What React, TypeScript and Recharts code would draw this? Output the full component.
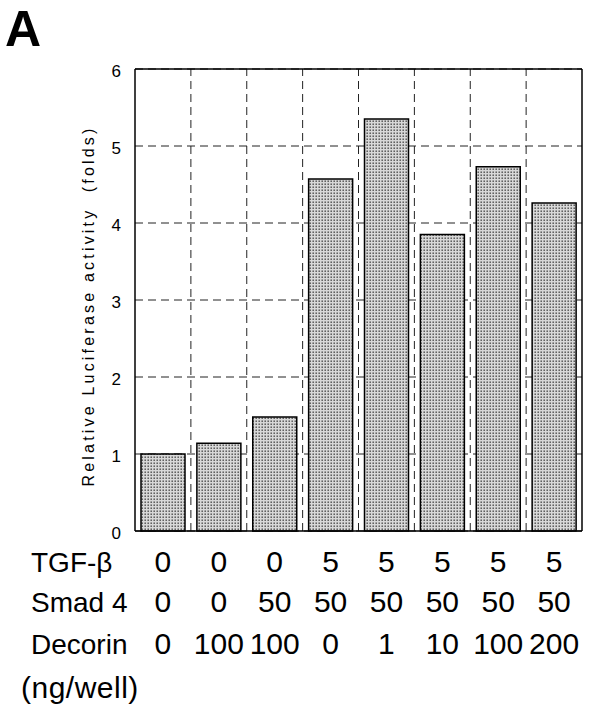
import { BarChart, Bar, XAxis, YAxis, CartesianGrid, ReferenceLine } from 'recharts';

// Luciferase reporter, relative activity (folds) per condition
const activity = [1.0, 1.14, 1.48, 4.57, 5.35, 3.85, 4.73, 4.26];
const tgfBeta = ['0', '0', '0', '5', '5', '5', '5', '5'];
const smad4 = ['0', '0', '50', '50', '50', '50', '50', '50'];
const decorin = ['0', '100', '100', '0', '1', '10', '100', '200'];

const yTicks = [0, 1, 2, 3, 4, 5, 6];
const minorTicks = [
  0.2, 0.4, 0.6, 0.8, 1.2, 1.4, 1.6, 1.8, 2.2, 2.4, 2.6, 2.8,
  3.2, 3.4, 3.6, 3.8, 4.2, 4.4, 4.6, 4.8, 5.2, 5.4, 5.6, 5.8,
];
// dashed vertical grid sits on the left edge of these categories
const boundaryIds = [1, 2, 3, 4, 5, 6, 7];
const lastId = 7;

const rowLabels = ['TGF-\u03b2', 'Smad 4', 'Decorin'];
const rows = [tgfBeta, smad4, decorin];

const data = activity.map((value, i) => ({ id: i, value }));

const FONT = '"Liberation Sans", Arial, Helvetica, sans-serif';
const ROW_BASE = [41, 81, 123];

function ConditionTick(props: any) {
  const { x, y, payload } = props;
  const i = payload.index;
  return (
    <g>
      {rows.map((row, r) => (
        <text
          key={r}
          x={x}
          y={y + ROW_BASE[r]}
          textAnchor="middle"
          fontSize={30}
          fill="#000"
          fontFamily={FONT}
        >
          {row[i]}
        </text>
      ))}
    </g>
  );
}

export default function App() {
  return (
    <div
      style={{
        position: 'absolute',
        left: 0,
        top: 0,
        width: 590,
        height: 708,
        background: '#fff',
        fontFamily: FONT,
      }}
    >
      <BarChart
        width={590}
        height={708}
        data={data}
        margin={{ top: 69, right: 8, bottom: 7, left: 95 }}
      >
        <defs>
          <pattern id="stipple" width="3" height="3" patternUnits="userSpaceOnUse">
            <rect width="3" height="3" fill="#d8d8d8" />
            <rect x="0.5" y="0.5" width="1.4" height="1.4" fill="#444" />
          </pattern>
        </defs>
        <CartesianGrid vertical={false} stroke="#222" strokeDasharray="8 5" />
        <XAxis
          dataKey="id"
          height={170}
          axisLine={{ stroke: '#000', strokeWidth: 1.5 }}
          tickLine={false}
          tickSize={0}
          tickMargin={0}
          interval={0}
          tick={<ConditionTick />}
        />
        <YAxis
          domain={[0, 6]}
          ticks={yTicks}
          interval={0}
          width={40}
          axisLine={{ stroke: '#000', strokeWidth: 1.5 }}
          tickLine={false}
          tickSize={0}
          tickMargin={14}
          tick={{ fill: '#000', fontSize: 17, dy: 2 }}
        />
        <YAxis
          yAxisId="minor"
          domain={[0, 6]}
          ticks={minorTicks}
          interval={0}
          width={0}
          mirror
          axisLine={false}
          tick={false}
          tickSize={5}
          tickLine={{ stroke: '#000' }}
        />
        {boundaryIds.map((b) => (
          <ReferenceLine
            key={b}
            x={b}
            position="start"
            stroke="#222"
            strokeDasharray="8 5"
          />
        ))}
        <ReferenceLine x={lastId} position="end" stroke="#000" strokeWidth={1.5} />
        <ReferenceLine y={6} stroke="#000" strokeWidth={1.5} />
        <Bar
          dataKey="value"
          barSize={44}
          fill="url(#stipple)"
          stroke="#000"
          strokeWidth={1.5}
          isAnimationActive={false}
        />
      </BarChart>
      <svg
        width={590}
        height={708}
        style={{ position: 'absolute', left: 0, top: 0, pointerEvents: 'none' }}
      >
        <text x={5} y={46} fontSize={50} fontWeight="bold" fill="#000" fontFamily={FONT}>
          A
        </text>
        <text
          transform="translate(94,306) rotate(-90)"
          textAnchor="middle"
          fontSize={16}
          letterSpacing={3.2}
          fill="#000"
          fontFamily={FONT}
          style={{ whiteSpace: 'pre' }}
        >
          {'Relative Luciferase activity  (folds)'}
        </text>
        {rowLabels.map((label, r) => (
          <text
            key={label}
            x={31}
            y={531 + ROW_BASE[r]}
            fontSize={28}
            fill="#000"
            fontFamily={FONT}
          >
            {label}
          </text>
        ))}
        <text x={21} y={698} fontSize={30} letterSpacing={0.5} fill="#000" fontFamily={FONT}>
          (ng/well)
        </text>
      </svg>
    </div>
  );
}
